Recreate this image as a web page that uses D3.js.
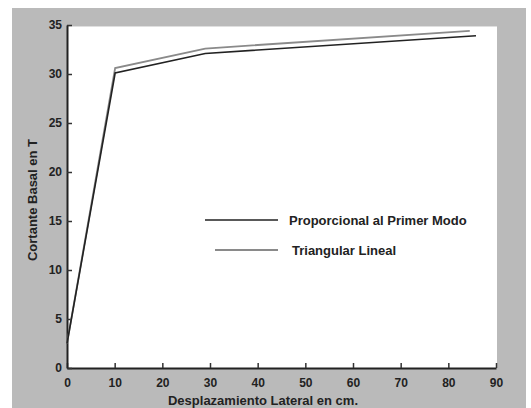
<!DOCTYPE html>
<html><head><meta charset="utf-8">
<script src="https://cdn.jsdelivr.net/npm/d3@7"></script>
<style>body{margin:0;background:#fff}svg{display:block}text{font-family:"Liberation Sans",Arial,sans-serif;font-weight:bold;fill:#222}</style>
</head><body>
<script>
const xTicks=[0,10,20,30,40,50,60,70,80,90];
const yTicks=[0,5,10,15,20,25,30,35];
const propX=[0,10.1,29,85.8];
const propY=[2.5,30.1,32.1,33.9];
const triX=[0,10.1,29,84.5];
const triY=[2.5,30.6,32.6,34.4];
const seriesNames=["Proporcional al Primer Modo","Triangular Lineal"];
const xLabel="Desplazamiento Lateral en cm.";
const yLabel="Cortante Basal en T";

const W=531,H=408;
const svg=d3.select("body").append("svg").attr("width",W).attr("height",H);
svg.append("rect").attr("x",12).attr("y",8).attr("width",514).attr("height",400).attr("fill","#bababa");
const x=d3.scaleLinear().domain([0,90]).range([67,496]);
const y=d3.scaleLinear().domain([0,35]).range([368,25]);
svg.append("rect").attr("x",x(0)).attr("y",y(34.85)).attr("width",x(90)-x(0)+1).attr("height",y(0)-y(34.85)).attr("fill","#fff");

const gx=svg.append("g").attr("transform",`translate(0,${y(0)})`)
  .call(d3.axisBottom(x).tickValues(xTicks).tickSizeInner(-5).tickSizeOuter(0).tickPadding(10));
const gy=svg.append("g").attr("transform",`translate(${x(0)},0)`)
  .call(d3.axisLeft(y).tickValues(yTicks).tickSizeInner(-5).tickSizeOuter(0).tickPadding(5));
[gx,gy].forEach(g=>{
  g.select(".domain").attr("stroke","#222").attr("stroke-width",2);
  g.selectAll(".tick line").attr("stroke","#333").attr("stroke-width",1.5);
  g.selectAll(".tick text").attr("font-size",12).attr("font-weight","bold").attr("fill","#222").attr("font-family","Liberation Sans, Arial, sans-serif");
});

const line=d3.line().x(d=>x(d[0])).y(d=>y(d[1]));
const tri=triX.map((v,i)=>[v,triY[i]]);
const prop=propX.map((v,i)=>[v,propY[i]]);
svg.append("path").attr("d",line(tri)).attr("fill","none").attr("stroke","#8a8a8a").attr("stroke-width",1.8);
svg.append("path").attr("d",line(prop)).attr("fill","none").attr("stroke","#222").attr("stroke-width",1.6);

// legend
svg.append("line").attr("x1",205).attr("x2",278).attr("y1",220).attr("y2",220).attr("stroke","#222").attr("stroke-width",1.6);
svg.append("text").attr("x",289).attr("y",225).attr("font-size",13).text(seriesNames[0]);
svg.append("line").attr("x1",215).attr("x2",278).attr("y1",250).attr("y2",250).attr("stroke","#8a8a8a").attr("stroke-width",1.8);
svg.append("text").attr("x",292).attr("y",255).attr("font-size",13).text(seriesNames[1]);

svg.append("text").attr("x",263).attr("y",405).attr("text-anchor","middle").attr("font-size",13).text(xLabel);
svg.append("text").attr("transform","translate(37,200) rotate(-90)").attr("text-anchor","middle").attr("font-size",13).text(yLabel);
</script>
</body></html>
